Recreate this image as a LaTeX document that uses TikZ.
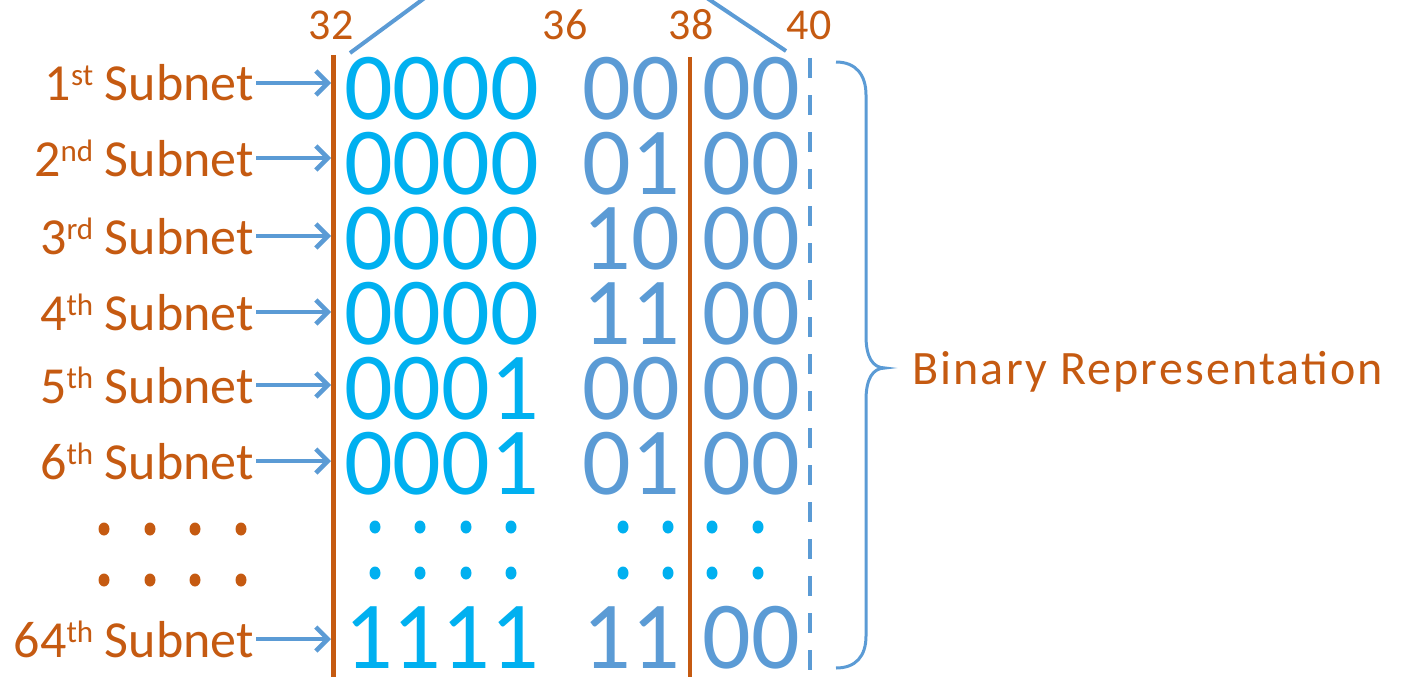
\documentclass[tikz,border=0pt]{standalone}
\usepackage{fontspec}
\setmainfont{Carlito}
\newfontfamily\captionfont[LetterSpace=4.5]{Carlito}
\usetikzlibrary{arrows.meta}
\definecolor{rust}{HTML}{C55A11}
\definecolor{sky}{HTML}{00B0F0}
\definecolor{steel}{HTML}{5B9BD5}
\newcommand\ordsup[1]{\raisebox{15pt}{\fontsize{31}{31}\selectfont #1}}

\begin{document}
\begin{tikzpicture}[x=1pt,y=-1pt,
  sublabel/.style={text=rust,font=\fontsize{52}{60}\selectfont,inner sep=0pt,anchor=east},
  bits/.style={font=\fontsize{96}{110}\selectfont,inner sep=0pt,anchor=base},
  hibits/.style={bits,text=sky},
  lobits/.style={bits,text=steel},
  bitindex/.style={text=rust,font=\fontsize{44}{50}\selectfont,inner sep=0pt,anchor=base},
  ptr/.style={draw=steel,line width=4.5pt,shorten <=2pt,
    -{Straight Barb[length=12pt,width=24pt,line width=4.5pt]}},
  divider/.style={draw=rust,line width=5pt},
  roof/.style={draw=steel,line width=4pt},
]
\useasboundingbox (0,0) rectangle (1402,677);

% bit index labels
\node[bitindex] (i32) at (331,40) {32};
\node[bitindex] (i36) at (565,40) {36};
\node[bitindex] (i38) at (691,40) {38};
\node[bitindex] (i40) at (809,40) {40};

% slanted lines leaving the top edge
\begin{scope}
  \clip (0,0) rectangle (1402,677);
  \coordinate (rl0) at (350,53);
  \coordinate (rl1) at (449,-20);
  \coordinate (rr0) at (786,51);
  \coordinate (rr1) at (680,-20);
  \draw[roof] (rl0) -- (rl1);
  \draw[roof] (rr0) -- (rr1);
\end{scope}

% field dividers
\draw[divider] (333,55) -- (333,677);
\draw[divider,line width=4.5pt] (690,57) -- (690,677);
\draw[draw=steel,line width=4pt,dash pattern=on 20pt off 17pt] (810,58) -- (810,677);

% subnet rows
\foreach \n/\sfx/\ay/\bl/\g/\h in {1/st/83/119/0000/00, 2/nd/158/194/0000/01,
    3/rd/236/269/0000/10, 4/th/312/344/0000/11, 5/th/385/419/0001/00,
    6/th/461/494/0001/01, 64/th/639/668/1111/11}
{
  \node[sublabel] (lab\n) at (254,\ay) {\n\ordsup{\sfx} Subnet};
  \coordinate (tip\n) at (331,\ay);
  \draw[ptr] (lab\n) -- (tip\n);
  \node[hibits] (ga\n) at (441.5,\bl) {\g};
  \node[lobits] (gb\n) at (631,\bl) {\h};
  \node[lobits] (gc\n) at (751.5,\bl) {00};
}

% elided rows
\foreach \y in {527,578} {
  \foreach \x in {104,150,195,241}
    \fill[rust] (\x,\y+2) ellipse [x radius=5.5, y radius=6.5];
}
\foreach \y in {527,573} {
  \foreach \x in {375,420,466,511,623,668,712,758}
    \fill[sky] (\x,\y) ellipse [x radius=5.5, y radius=6.5];
}

% brace and caption
\draw[draw=steel,line width=3pt]
  (836,62) .. controls (856,62) and (866,75) .. (866,95) -- (866,336)
  .. controls (866,356) and (872,368) .. (885,368)
  .. controls (872,368) and (866,380) .. (866,400) -- (866,636)
  .. controls (866,656) and (856,668) .. (836,668);
\node[text=rust,font=\captionfont\fontsize{48}{58}\selectfont,inner sep=0pt,anchor=base west]
  (binrep) at (912,384) {Binary Representation};
\end{tikzpicture}
\end{document}
